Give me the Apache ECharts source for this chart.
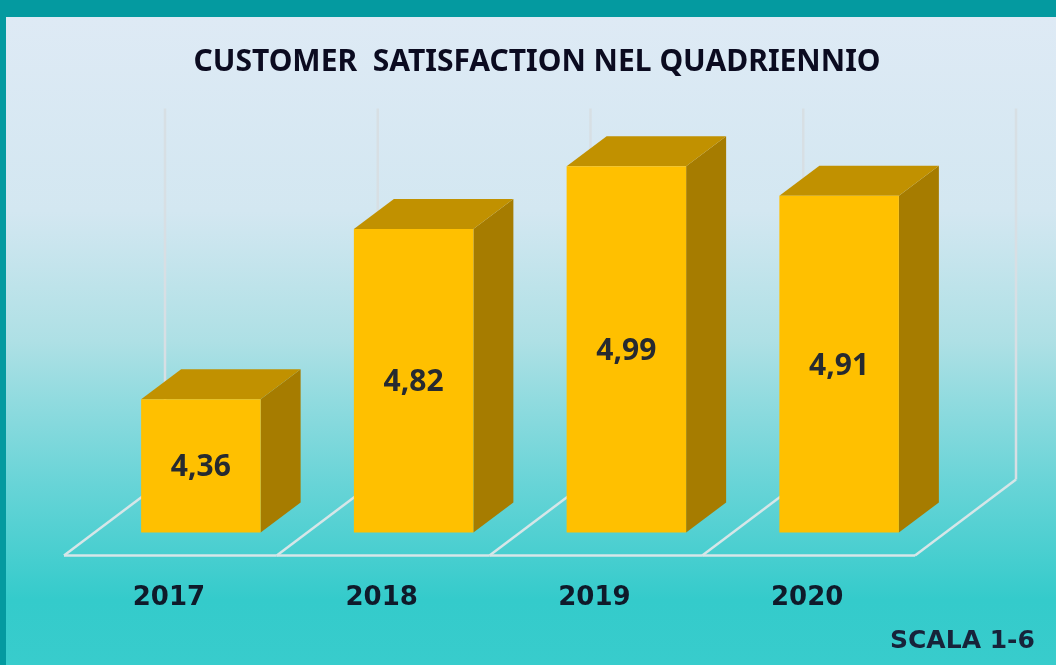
<!DOCTYPE html>
<html>
<head>
<meta charset="utf-8">
<style>html,body{margin:0;padding:0;background:#049aa0}#c{width:1056px;height:665px}</style>
<script src="https://cdn.jsdelivr.net/npm/echarts@6/dist/echarts.min.js"></script>
</head>
<body>
<div id="c"></div>
<script>
const titleText = 'CUSTOMER  SATISFACTION NEL QUADRIENNIO';
const noteText = 'SCALA 1-6';
const categories = ['2017', '2018', '2019', '2020'];
const values = [4.36, 4.82, 4.99, 4.91];

const chart = echarts.init(document.getElementById('c'), null, { renderer: 'canvas' });
const wallColor = '#d7dfe4';
const floorColor = '#d6e6e8';

function line(x1, y1, x2, y2, stroke, lineWidth) {
  return { type: 'line', shape: { x1, y1, x2, y2 }, style: { stroke, lineWidth, fill: null } };
}
function poly(points, fill) {
  return { type: 'polygon', shape: { points }, style: { fill } };
}

chart.setOption({
  animation: false,
  backgroundColor: '#049aa0',
  graphic: [{
    type: 'rect', z: -10, silent: true,
    shape: { x: 6, y: 17, width: 1050, height: 648 },
    style: {
      fill: new echarts.graphic.LinearGradient(0, 0, 0, 1, [
        { offset: 0, color: '#deeaf5' },
        { offset: 0.3, color: '#d3e7f1' },
        { offset: 0.5, color: '#aee0e5' },
        { offset: 0.72, color: '#68d4d7' },
        { offset: 0.9, color: '#34cbcb' },
        { offset: 1, color: '#38cccc' }
      ])
    }
  }, {
    type: 'text', left: 890, top: 629, silent: true,
    style: { text: noteText, fill: '#17233a', font: 'bold 25px "DejaVu Sans"' }
  }],
  title: {
    text: titleText, left: 532, top: 42, textAlign: 'center',
    textStyle: { color: '#0b0b20', fontFamily: 'Noto Sans', fontWeight: 'bold', fontSize: 30 }
  },
  grid: { left: 64, right: 141, top: 185.5, bottom: 109.5 },
  xAxis: {
    type: 'category', data: categories,
    axisLine: { show: false }, axisTick: { show: false }, splitLine: { show: false },
    axisLabel: { margin: 30, padding: [0, 3, 0, 0], color: '#0f1a2a', fontFamily: 'DejaVu Sans', fontWeight: 'bold', fontSize: 26 }
  },
  yAxis: { type: 'value', min: 4, max: 5, show: false, splitLine: { show: false } },
  series: [{
    type: 'custom',
    clip: false,
    coordinateSystem: 'cartesian2d',
    data: values.map((v, i) => [i, v]),
    encode: { x: 0, y: 1 },
    renderItem(params, api) {
      const i = api.value(0), v = api.value(1);
      const band = api.size([1, 0])[0];
      const unit = api.size([0, 1])[1] + 1;
      const base = api.coord([i, 4]);
      const top = api.coord([i, v]);
      const dx = 40, dy = 30;
      const cx = base[0] + 30.5, w = band * 0.5617;
      const xL = cx - w / 2, xR = cx + w / 2, yB = base[1] - 23, yT = top[1] - 23;
      const fx = base[0] - band / 2, fy = base[1], bx = 101, by = 76;
      const children = [];
      children.push(line(fx + bx, fy - by, fx + bx, fy - by - unit, wallColor, 2.5));
      children.push(line(fx, fy, fx + bx, fy - by, floorColor, 2.5));
      children.push(line(fx, fy, fx + band, fy, floorColor, 2.5));
      if (i === categories.length - 1) {
        children.push(line(fx + band, fy, fx + band + bx, fy - by, floorColor, 2.5));
        children.push(line(fx + band + bx, fy - by, fx + band + bx, fy - by - unit, wallColor, 2.5));
      }
      children.push(poly([[xR, yT], [xR + dx, yT - dy], [xR + dx, yB - dy], [xR, yB]], '#a67c00'));
      children.push(poly([[xL, yT], [xL + dx, yT - dy], [xR + dx, yT - dy], [xR, yT]], '#c19100'));
      children.push(poly([[xL, yT], [xR, yT], [xR, yB], [xL, yB]], '#ffc000'));
      children.push({
        type: 'text',
        style: {
          text: v.toFixed(2).replace('.', ','), x: cx, y: (yT + yB) / 2 + 2,
          align: 'center', verticalAlign: 'middle', fill: '#262a30',
          font: 'bold 30px "Noto Sans"'
        }
      });
      return { type: 'group', children };
    }
  }]
});
</script>
</body>
</html>
